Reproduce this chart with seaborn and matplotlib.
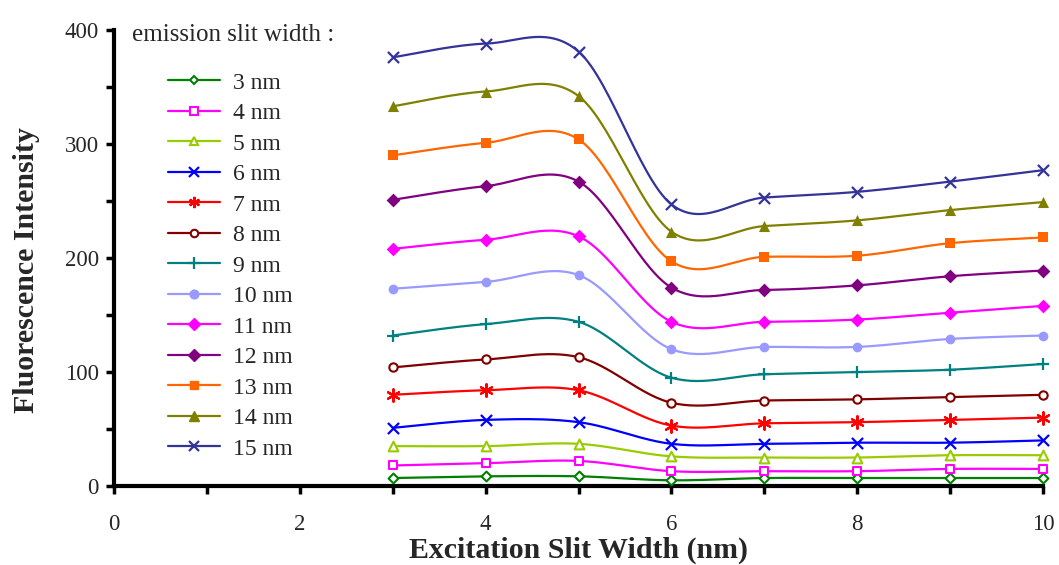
import numpy as np
import pandas as pd
import matplotlib
matplotlib.use("Agg")
import matplotlib.pyplot as plt
from matplotlib.lines import Line2D
import seaborn as sns

# Excitation slit widths (nm)
excitation = [3, 4, 5, 6, 7, 8, 9, 10]

# Fluorescence intensity for each emission slit width
em_3nm = [7, 8.5, 8.5, 5, 7, 7, 7, 7]
em_4nm = [18, 20, 22, 13, 13, 13, 15, 15]
em_5nm = [35, 35, 37, 26, 25, 25, 27, 27]
em_6nm = [51, 58, 56, 37, 37, 38, 38, 40]
em_7nm = [80, 84, 84, 53, 55, 56, 58, 60]
em_8nm = [104, 111, 113, 73, 75, 76, 78, 80]
em_9nm = [132, 142, 144, 95, 98, 100, 102, 107]
em_10nm = [173, 179, 185, 120, 122, 122, 129, 132]
em_11nm = [208, 216, 219, 144, 144, 146, 152, 158]
em_12nm = [251, 263, 267, 174, 172, 176, 184, 189]
em_13nm = [290, 301, 304, 197, 201, 202, 213, 218]
em_14nm = [333, 346, 342, 223, 228, 233, 242, 249]
em_15nm = [376, 388, 381, 247, 253, 258, 267, 277]

labels = ["3 nm", "4 nm", "5 nm", "6 nm", "7 nm", "8 nm", "9 nm",
          "10 nm", "11 nm", "12 nm", "13 nm", "14 nm", "15 nm"]
series = [em_3nm, em_4nm, em_5nm, em_6nm, em_7nm, em_8nm, em_9nm,
          em_10nm, em_11nm, em_12nm, em_13nm, em_14nm, em_15nm]

colors = ["#008000", "#FF00FF", "#99CC00", "#0000FF", "#FF0000", "#800000",
          "#008080", "#9999FF", "#FF00FF", "#800080", "#FF6600", "#808000",
          "#333399"]
markers = ["D", "s", "^", "x", (6, 2, 0), "o", "+", "o", "D", "D", "s", "^", "x"]
filled = [False, False, False, None, None, False, None, True, True, True, True, True, None]
msizes = [5, 6, 7, 8, 9, 6, 9, 7, 7, 7, 7, 8, 8]


def smooth(xs, ys, n=30):
    """Bezier smoothing with control points at P_i +/- (P_{i+1}-P_{i-1})/6."""
    pts = np.column_stack([xs, ys]).astype(float)
    ext = np.vstack([pts[0], pts, pts[-1]])
    out = []
    t = np.linspace(0, 1, n, endpoint=False)[:, None]
    for i in range(len(pts) - 1):
        p0, p3 = ext[i + 1], ext[i + 2]
        c1 = p0 + (ext[i + 2] - ext[i]) / 6.0
        c2 = p3 - (ext[i + 3] - ext[i + 1]) / 6.0
        seg = ((1 - t) ** 3) * p0 + 3 * ((1 - t) ** 2) * t * c1 \
            + 3 * (1 - t) * t ** 2 * c2 + t ** 3 * p3
        out.append(seg)
    out.append(pts[-1][None, :])
    arr = np.vstack(out)
    return arr[:, 0], arr[:, 1]


sns.set_style("white")
plt.rcParams["font.family"] = ["Liberation Serif", "DejaVu Serif"]

fig = plt.figure(figsize=(10.59, 5.65), dpi=100)
ax = fig.add_axes([0.1077, 0.1398, 0.985 - 0.1077, 0.947 - 0.1398])

handles = []
for lab, ys, col, mk, fl, ms in zip(labels, series, colors, markers, filled, msizes):
    sx, sy = smooth(excitation, ys)
    curve = pd.DataFrame({"x": sx, "y": sy})
    sns.lineplot(data=curve, x="x", y="y", ax=ax, color=col, lw=1.6,
                 sort=False, estimator=None, legend=False)
    pts = pd.DataFrame({"x": excitation, "y": ys})
    if fl is None:
        kw = dict(color=col, linewidths=1.6)
        hkw = dict(color=col, markeredgewidth=1.6)
    elif fl:
        kw = dict(color=col, edgecolor=col, linewidth=0)
        hkw = dict(color=col, markerfacecolor=col, markeredgecolor=col)
    else:
        kw = dict(facecolor="white", edgecolor=col, linewidth=1.5)
        hkw = dict(color=col, markerfacecolor="white", markeredgecolor=col,
                   markeredgewidth=1.5)
    sns.scatterplot(data=pts, x="x", y="y", ax=ax, marker=mk, s=ms ** 2,
                    zorder=3, legend=False, clip_on=False, **kw)
    handles.append(Line2D([0], [0], marker=mk, markersize=ms * 0.9, lw=1.6,
                          label=lab, **hkw))

ax.set_xlim(0, 10)
ax.set_ylim(0, 400)
ax.set_xticks(np.arange(0, 11, 2))
ax.set_xticks(np.arange(0, 11, 1), minor=True)
ax.set_yticks(np.arange(0, 401, 100))
ax.set_yticks(np.arange(0, 401, 50), minor=True)

for side in ["top", "right"]:
    ax.spines[side].set_visible(False)
for side in ["left", "bottom"]:
    ax.spines[side].set_linewidth(3)
    ax.spines[side].set_color("black")
    ax.spines[side].set_capstyle("projecting")

ax.tick_params(axis="both", which="both", direction="out", width=2.5,
               length=6, color="black", labelsize=16.5,
               bottom=True, left=True, top=False, right=False)
ax.tick_params(axis="x", which="major", pad=14)
ax.tick_params(axis="y", which="major", pad=5)

ax.set_xlabel("Excitation Slit Width (nm)", fontsize=21.5, fontweight="bold")
ax.set_ylabel("Fluorescence Intensity", fontsize=21.5, fontweight="bold")
ax.xaxis.set_label_coords(0.5, -0.11)
ax.yaxis.set_label_coords(-0.08, 0.474)

fig.text(132 / 1059, 1 - 35 / 565, "emission slit width :", fontsize=18,
         ha="left", va="center")
leg = ax.legend(handles=handles, loc="upper left",
                bbox_to_anchor=(168 / 1059, 1 - 72 / 565),
                bbox_transform=fig.transFigure, frameon=False, fontsize=17,
                handlelength=2.2, handletextpad=0.55, labelspacing=0.38,
                borderpad=0, borderaxespad=0)

fig.savefig("out.png", dpi=100, facecolor="white")
